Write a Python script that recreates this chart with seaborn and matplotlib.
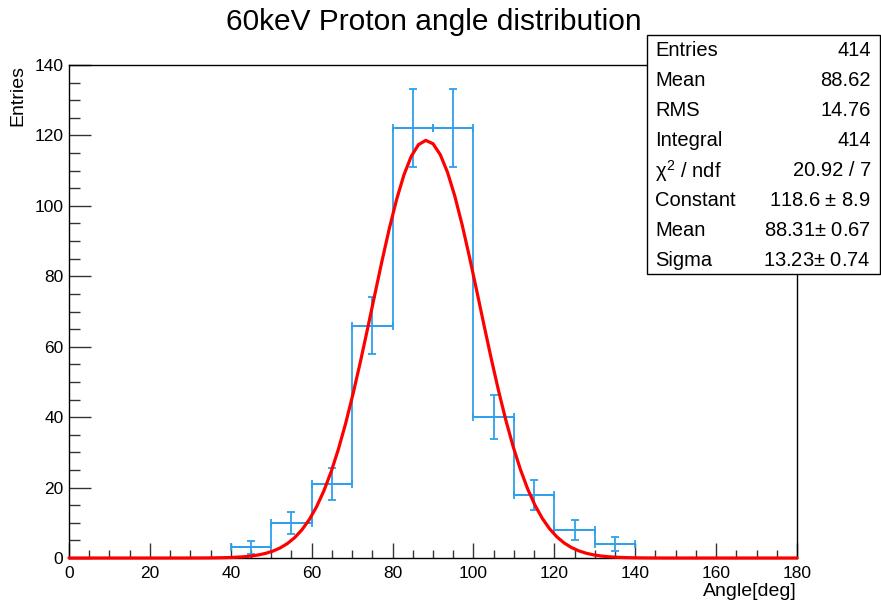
import numpy as np
import pandas as pd
import matplotlib
matplotlib.use("Agg")
import matplotlib.pyplot as plt
from matplotlib.ticker import MultipleLocator
from matplotlib.patches import Rectangle
import seaborn as sns

# ---- data ----
bin_edges = [40, 50, 60, 70, 80, 90, 100, 110, 120, 130, 140]
bin_centers = [45, 55, 65, 75, 85, 95, 105, 115, 125, 135]
counts = [3, 10, 21, 66, 122, 122, 40, 18, 8, 4]
count_errors = [1.73, 3.16, 4.58, 8.12, 11.05, 11.05, 6.32, 4.24, 2.83, 2.0]
fit_constant = 118.6
fit_mean = 88.31
fit_sigma = 13.23
stat_labels = ["Entries", "Mean", "RMS", "Integral", r"$\chi^{2}$ / ndf",
               "Constant", "Mean", "Sigma"]
stat_values = ["414", "88.62", "14.76", "414", "20.92 / 7",
               "118.6 $\\pm$ 8.9", "88.31$\\pm$ 0.67", "13.23$\\pm$ 0.74"]

sns.set_theme(style="white")
plt.rcParams["font.family"] = ["Liberation Sans", "DejaVu Sans"]
plt.rcParams["mathtext.fontset"] = "custom"
plt.rcParams["mathtext.rm"] = "Liberation Sans"
plt.rcParams["mathtext.it"] = "Liberation Sans"
plt.rcParams["text.color"] = "black"
plt.rcParams["xtick.color"] = "black"
plt.rcParams["ytick.color"] = "black"

fig = plt.figure(figsize=(8.81, 6.03), dpi=100)
ax = fig.add_axes([69 / 881, 45 / 603, (797 - 69) / 881, (558 - 65) / 603])

blue = "#2ea0ee"
# histogram outline
ax.stairs(counts, bin_edges, baseline=None, color=blue, linewidth=1.3, zorder=2)
# error bars
ax.errorbar(bin_centers, counts, xerr=5, yerr=count_errors, fmt="none",
            ecolor=blue, elinewidth=1.3, capsize=3, capthick=1.3, zorder=2)

# gaussian fit curve from fitted parameters
xfit = np.linspace(0, 180, 101)
fit_df = pd.DataFrame({"x": xfit,
                       "y": fit_constant * np.exp(-0.5 * ((xfit - fit_mean) / fit_sigma) ** 2)})
sns.lineplot(data=fit_df, x="x", y="y", ax=ax, color="#ff0000", linewidth=2.3,
             zorder=3, clip_on=False)

ax.set_xlim(0, 180)
ax.set_ylim(0, 140)
ax.xaxis.set_major_locator(MultipleLocator(20))
ax.xaxis.set_minor_locator(MultipleLocator(5))
ax.yaxis.set_major_locator(MultipleLocator(20))
ax.yaxis.set_minor_locator(MultipleLocator(5))
ax.tick_params(axis="x", which="major", direction="in", length=11, width=1,
               color="#333333", labelsize=12.5, pad=6, bottom=True, top=False,
               labelcolor="black")
ax.tick_params(axis="x", which="minor", direction="in", length=5.5, width=1,
               color="#333333", bottom=True, top=False)
ax.tick_params(axis="y", which="major", direction="in", length=16, width=1,
               color="#333333", labelsize=12.5, pad=4, left=True, right=False,
               labelcolor="black")
ax.tick_params(axis="y", which="minor", direction="in", length=8, width=1,
               color="#333333", left=True, right=False)
ax.set_xlabel("")
ax.set_ylabel("")
for s in ax.spines.values():
    s.set_visible(True)
    s.set_color("black")
    s.set_linewidth(1)
ax.grid(False)

fig.text(797 / 881, 1 - 592 / 603, "Angle[deg]", ha="right", va="center", fontsize=14)
fig.text(18 / 881, 1 - 65 / 603, "Entries", ha="center", va="top", rotation=90, fontsize=14)
fig.text(434 / 881, 1 - 22 / 603, "60keV Proton angle distribution", ha="center",
         va="center", fontsize=21.5)

# stats box
bx0, bx1 = 647 / 881, 880 / 881
by0, by1 = 1 - 274 / 603, 1 - 35 / 603
fig.patches.append(Rectangle((bx0, by0), bx1 - bx0, by1 - by0, transform=fig.transFigure,
                             facecolor="white", edgecolor="black", linewidth=1, zorder=10))
for i, (lab, val) in enumerate(zip(stat_labels, stat_values)):
    yc = 1 - (51 + i * 29.9) / 603
    fig.text(655 / 881, yc, lab, ha="left", va="center", fontsize=14.5, zorder=11)
    fig.text(871 / 881, yc, val, ha="right", va="center", fontsize=14.5, zorder=11)

fig.savefig("out.png", dpi=100)
